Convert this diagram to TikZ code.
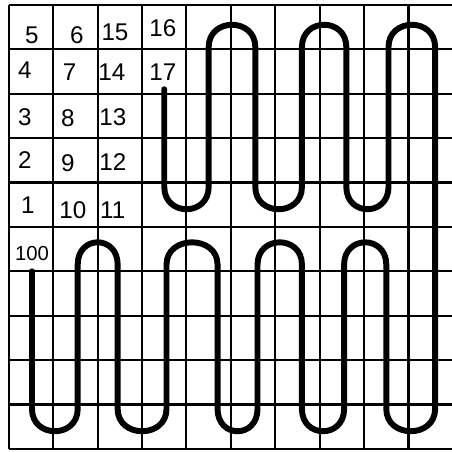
\documentclass[tikz,border=0pt]{standalone}
\usepackage{fontspec}
\setmainfont{Liberation Sans}
\tikzset{
  grd/.style={line width=1.3pt, black},
  snake/.style={line width=3.8pt, black, line cap=round, line join=round},
  num/.style={font=\fontsize{15.5}{15.5}\selectfont, inner sep=0pt},
  snum/.style={font=\fontsize{13}{13}\selectfont, inner sep=0pt},
}

\begin{document}
\begin{tikzpicture}
\useasboundingbox (-0.2,-0.07) rectangle (9.98,10.11);

% squared paper
\foreach \i in {0,...,9} \draw[grd] (\i,0) -- (\i,10);
\foreach \j in {0,...,10} \draw[grd] (0,\j) -- (10,\j);

% first cells
\foreach \n/\x/\y in {1/0.43/5.5, 2/0.36/6.51, 3/0.36/7.48, 4/0.36/8.54, 5/0.52/9.32,
                      6/1.53/9.32, 7/1.37/8.49, 8/1.33/7.45, 9/1.33/6.44, 10/1.44/5.38,
                      11/2.34/5.38, 12/2.34/6.46, 13/2.34/7.48, 14/2.32/8.49, 15/2.39/9.39,
                      16/3.47/9.48, 17/3.47/8.49}
  \node[num] (n\n) at (\x,\y) {\n};
\node[snum] (n100) at (0.52,4.39) {100};

% the rest of the way, 18 to 100
\draw[snake] (3.5,8.1) -- (3.5,5.9)
  .. controls (3.5,5.23) and (4.5,5.23) .. (4.5,5.9) -- (4.5,9.05)
  .. controls (4.5,9.72) and (5.55,9.72) .. (5.55,9.05) -- (5.55,5.9)
  .. controls (5.55,5.23) and (6.6,5.23) .. (6.6,5.9) -- (6.6,9.05)
  .. controls (6.6,9.72) and (7.6,9.72) .. (7.6,9.05) -- (7.6,5.9)
  .. controls (7.6,5.23) and (8.55,5.23) .. (8.55,5.9) -- (8.55,9.05)
  .. controls (8.55,9.72) and (9.6,9.72) .. (9.6,9.05) -- (9.6,0.9)
  .. controls (9.6,0.23) and (8.5,0.23) .. (8.5,0.9) -- (8.5,4.15)
  .. controls (8.5,4.82) and (7.55,4.82) .. (7.55,4.15) -- (7.55,0.9)
  .. controls (7.55,0.23) and (6.6,0.23) .. (6.6,0.9) -- (6.6,4.15)
  .. controls (6.6,4.82) and (5.6,4.82) .. (5.6,4.15) -- (5.6,0.9)
  .. controls (5.6,0.23) and (4.7,0.23) .. (4.7,0.9) -- (4.7,4.15)
  .. controls (4.7,4.82) and (3.55,4.82) .. (3.55,4.15) -- (3.55,0.9)
  .. controls (3.55,0.23) and (2.45,0.23) .. (2.45,0.9) -- (2.45,4.15)
  .. controls (2.45,4.82) and (1.55,4.82) .. (1.55,4.15) -- (1.55,0.9)
  .. controls (1.55,0.23) and (0.52,0.23) .. (0.52,0.9) -- (0.52,4.0);

\end{tikzpicture}
\end{document}
